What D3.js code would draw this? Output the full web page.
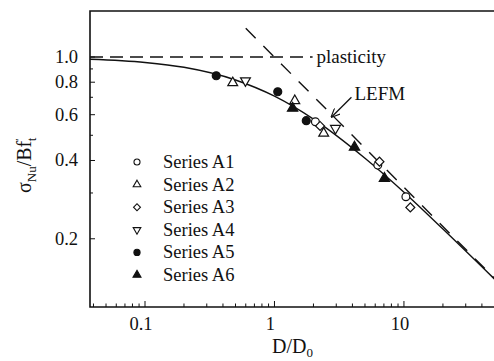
<!DOCTYPE html>
<html>
<head>
<meta charset="utf-8">
<script src="https://cdn.jsdelivr.net/npm/d3@7"></script>
<style>
  body { margin: 0; background: #fff; }
  svg { display: block; }
  text { font-family: "Liberation Serif", "Times New Roman", Times, "DejaVu Serif", serif; fill: #111; }
</style>
</head>
<body>
<div id="chart"></div>
<script>
// size ratio D/D0 and nominal strength sigma_Nu / B f't
const seriesNames = ["Series A1", "Series A2", "Series A3", "Series A4", "Series A5", "Series A6"]
const seriesA1 = [[2.07, 0.564], [6.28, 0.384], [10.35, 0.290]]
const seriesA2 = [[0.476, 0.796], [1.435, 0.679], [2.40, 0.509]]
const seriesA3 = [[2.25, 0.543], [6.47, 0.396], [11.2, 0.264]]
const seriesA4 = [[0.597, 0.811], [2.96, 0.532]]
const seriesA5 = [[0.355, 0.847], [1.06, 0.735], [1.76, 0.569]]
const seriesA6 = [[1.38, 0.635], [4.15, 0.450], [7.07, 0.341]]

// fitted size effect curve, read at a few points
const curveX = [0.0376, 0.1, 0.2, 0.5, 1, 2, 5, 10, 20, 50]
const curveY = [0.98, 0.953, 0.913, 0.816, 0.707, 0.577, 0.408, 0.302, 0.218, 0.14]

// asymptotes
const plasticity = [[0.0376, 1.0], [1.97, 1.0]]
const lefm = [[0.6, 1.29], [50, 0.141]]

const xTickLabels = [0.1, 1, 10]
const yTickLabels = [0.2, 0.4, 0.6, 0.8, 1.0]

const width = 494, height = 361
const margin = { top: 11, right: 0, bottom: 54, left: 90 }

const x = d3.scaleLog().domain([0.0376, 49.6]).range([margin.left, width - margin.right])
const y = d3.scaleLog().domain([0.1093, 1.503]).range([height - margin.bottom, margin.top])

const svg = d3.select("#chart")
  .append("svg")
  .attr("width", width)
  .attr("height", height)

svg.append("defs").append("clipPath").attr("id", "plot")
  .append("rect")
  .attr("x", margin.left).attr("y", margin.top)
  .attr("width", width - margin.left).attr("height", height - margin.bottom - margin.top)

const x0 = margin.left, y0 = height - margin.bottom

// frame: left, bottom, top
svg.append("path")
  .attr("d", `M${width},${margin.top}H${x0}V${y0}H${width}`)
  .attr("fill", "none").attr("stroke", "#111").attr("stroke-width", 1.6)

// ticks pointing inward
const isMajor = v => Math.abs(Math.log10(v) - Math.round(Math.log10(v))) < 1e-6
svg.append("g").selectAll("line")
  .data(x.ticks())
  .enter().append("line")
  .attr("x1", d => x(d)).attr("x2", d => x(d))
  .attr("y1", y0).attr("y2", d => y0 - (isMajor(d) ? 6 : 3.5))
  .attr("stroke", "#111").attr("stroke-width", 1)

svg.append("g").selectAll("line")
  .data(y.ticks())
  .enter().append("line")
  .attr("y1", d => y(d)).attr("y2", d => y(d))
  .attr("x1", x0).attr("x2", d => x0 + (yTickLabels.includes(+d.toFixed(1)) ? 5 : 3))
  .attr("stroke", "#111").attr("stroke-width", 1)

svg.append("g").selectAll("text")
  .data(xTickLabels)
  .enter().append("text")
  .attr("x", d => x(d) - 4)
  .attr("y", y0 + 23)
  .attr("text-anchor", "middle")
  .style("font-size", "18.5px")
  .text(d => d)

svg.append("g").selectAll("text")
  .data(yTickLabels)
  .enter().append("text")
  .attr("x", x0 - 12)
  .attr("y", d => y(d) + 6)
  .attr("text-anchor", "end")
  .style("font-size", "18.5px")
  .text(d => d.toFixed(1))

// axis titles
const xt = svg.append("text")
  .attr("x", 272).attr("y", 353)
  .style("font-size", "20px")
xt.append("tspan").text("D/D")
xt.append("tspan").attr("dy", 4).style("font-size", "13px").text("0")

const yt = svg.append("text")
  .attr("transform", "translate(31,193) rotate(-90)")
  .style("font-size", "20px")
yt.append("tspan").text("σ")
yt.append("tspan").attr("dy", 5).style("font-size", "13px").text("Nu")
yt.append("tspan").attr("dy", -5).text("/Bf")
yt.append("tspan").attr("dy", -8).style("font-size", "11px").text("′")
yt.append("tspan").attr("dy", 13).attr("dx", -3).style("font-size", "13px").text("t")

const plot = svg.append("g").attr("clip-path", "url(#plot)")
const line = d3.line().x(d => x(d[0])).y(d => y(d[1]))

plot.append("path")
  .datum(plasticity)
  .attr("d", line)
  .attr("fill", "none").attr("stroke", "#111").attr("stroke-width", 1.4)
  .attr("stroke-dasharray", "13,7")

plot.append("path")
  .datum(lefm)
  .attr("d", line)
  .attr("fill", "none").attr("stroke", "#111").attr("stroke-width", 1.4)
  .attr("stroke-dasharray", "14,11")

plot.append("path")
  .datum(curveX.map((v, i) => [v, curveY[i]]))
  .attr("d", line.curve(d3.curveMonotoneX))
  .attr("fill", "none").attr("stroke", "#111").attr("stroke-width", 1.4)

// annotations
svg.append("text")
  .attr("x", x(2.11)).attr("y", y(0.948))
  .style("font-size", "19px")
  .text("plasticity")

svg.append("text")
  .attr("x", x(4.15)).attr("y", y(0.683))
  .style("font-size", "19px")
  .text("LEFM")

svg.append("defs").append("marker")
  .attr("id", "arrow")
  .attr("viewBox", "0 -5 10 10")
  .attr("refX", 9).attr("refY", 0)
  .attr("markerWidth", 9).attr("markerHeight", 9)
  .attr("markerUnits", "userSpaceOnUse")
  .attr("orient", "auto")
  .append("path")
  .attr("d", "M0,-4.5L10,0L0,4.5")
  .attr("fill", "none").attr("stroke", "#111").attr("stroke-width", 1.3)

svg.append("line")
  .attr("x1", x(3.93)).attr("y1", y(0.70))
  .attr("x2", x(2.76)).attr("y2", y(0.588))
  .attr("stroke", "#111").attr("stroke-width", 1.3)
  .attr("marker-end", "url(#arrow)")

// markers
const series = [seriesA1, seriesA2, seriesA3, seriesA4, seriesA5, seriesA6]
const styles = [
  { type: d3.symbolCircle, fill: false, rot: 0, size: 48 },
  { type: d3.symbolTriangle, fill: false, rot: 0, size: 42 },
  { type: d3.symbolSquare, fill: false, rot: 45, size: 40 },
  { type: d3.symbolTriangle, fill: false, rot: 180, size: 42 },
  { type: d3.symbolCircle, fill: true, rot: 0, size: 50 },
  { type: d3.symbolTriangle, fill: true, rot: 0, size: 46 }
]

series.forEach((pts, i) => {
  const s = styles[i]
  plot.append("g").selectAll("path")
    .data(pts)
    .enter().append("path")
    .attr("d", d3.symbol().type(s.type).size(s.size))
    .attr("transform", d => `translate(${x(d[0])},${y(d[1])}) rotate(${s.rot})`)
    .attr("fill", s.fill ? "#111" : "#fff")
    .attr("stroke", "#111").attr("stroke-width", 1.2)
})

// legend
const legend = svg.append("g").attr("transform", "translate(137,162)")
seriesNames.forEach((name, i) => {
  const s = styles[i]
  const row = legend.append("g").attr("transform", `translate(0,${i * 22.6})`)
  row.append("path")
    .attr("d", d3.symbol().type(s.type).size(s.size * 0.6))
    .attr("transform", `rotate(${s.rot})`)
    .attr("fill", s.fill ? "#111" : "#fff")
    .attr("stroke", "#111").attr("stroke-width", 1.1)
  row.append("text")
    .attr("x", 26).attr("y", 6)
    .style("font-size", "18.5px")
    .text(name)
})
</script>
</body>
</html>
